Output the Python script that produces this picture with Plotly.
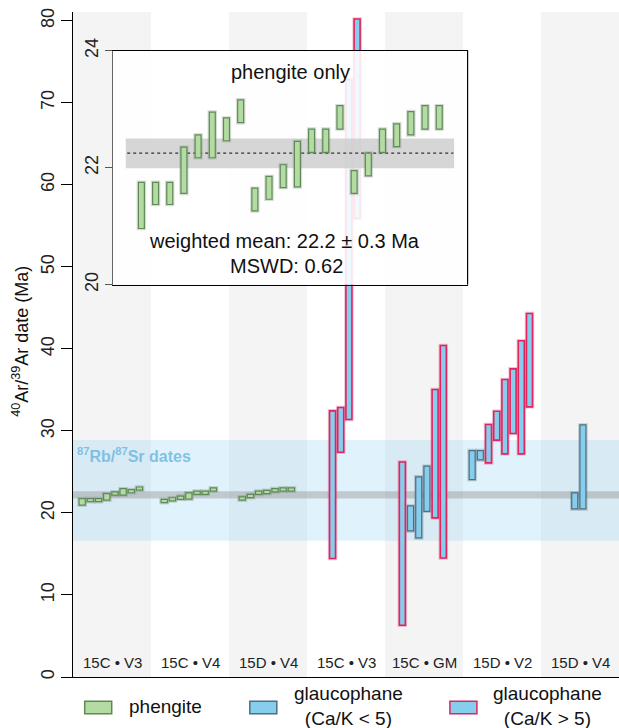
import plotly.graph_objects as go

# ---------------- data ----------------
categories = ["15C • V3", "15C • V4", "15D • V4", "15C • V3", "15C • GM", "15D • V2", "15D • V4"]

# phengite 40Ar/39Ar dates (Ma): lower and upper bound
ph_sample = [0] * 8 + [1] * 7 + [2] * 7
ph_lo = [20.96, 21.37, 21.37, 21.56, 22.17, 22.17, 22.46, 22.77,
         21.26, 21.46, 21.66, 21.67, 22.26, 22.26, 22.66,
         21.56, 21.86, 22.26, 22.36, 22.56, 22.66, 22.66]
ph_hi = [21.75, 21.75, 21.75, 22.35, 22.56, 22.95, 22.85, 23.16,
         21.65, 21.85, 22.05, 22.45, 22.66, 22.66, 23.06,
         21.95, 22.25, 22.66, 22.75, 22.96, 23.06, 23.06]

# glaucophane dates (Ma)
gl_sample = [3, 3, 3, 3, 4, 4, 4, 4, 4, 4, 5, 5, 5, 5, 5, 5, 5, 5, 6, 6]
gl_lo = [14.44, 27.40, 31.39, 55.90, 6.30, 17.80, 16.95, 20.20, 19.40, 14.50,
         24.07, 26.46, 26.10, 28.87, 27.20, 29.68, 27.20, 32.93, 20.49, 20.49]
gl_hi = [32.44, 32.85, 72.80, 80.20, 26.20, 20.85, 24.40, 25.70, 35.05, 40.40,
         27.60, 27.60, 30.78, 32.40, 36.27, 37.56, 40.98, 44.30, 22.44, 30.73]
gl_cak_gt5 = [1, 1, 1, 1, 1, 0, 0, 0, 1, 1, 0, 0, 1, 1, 1, 1, 1, 1, 0, 0]

rbsr_range = [16.6, 28.9]          # 87Rb/87Sr dates band
main_mean_band = [21.77, 22.63]    # grey weighted-mean band in main panel
inset_mean = 22.25                 # weighted mean (inset dashed line)
inset_mean_band = [21.99, 22.50]   # inset grey band
y_ticks_main = [0, 10, 20, 30, 40, 50, 60, 70, 80]
y_ticks_inset = [20, 22, 24]

# ---------------- layout constants ----------------
STEP = 0.105
SHIFT = -0.015
FONT = "Liberation Sans, Arial, sans-serif"
GREEN_FILL = "#b4dca2"
GREEN_LINE = "#5f8a58"
BLUE_FILL = "#86cdee"
BLUE_LINE = "#4d6f80"
PINK_LINE = "#e0245e"


def positions(samples):
    counts = {}
    for s in samples:
        counts[s] = counts.get(s, 0) + 1
    seen = {}
    xs = []
    for s in samples:
        k = seen.get(s, 0)
        seen[s] = k + 1
        n = counts[s]
        xs.append(s + 0.5 + SHIFT + (k - (n - 1) / 2) * STEP)
    return xs


ph_x = positions(ph_sample)
gl_x = positions(gl_sample)

fig = go.Figure()


def add_bars(xs, lo, hi, fill, line, halo, width, xaxis="x", yaxis="y", lw=1.2):
    h = [b - a for a, b in zip(lo, hi)]
    fig.add_trace(go.Bar(x=xs, y=h, base=lo, width=width, xaxis=xaxis, yaxis=yaxis,
                         marker=dict(color="rgba(0,0,0,0)", line=dict(color=halo, width=3.5)),
                         showlegend=False, hoverinfo="skip"))
    fig.add_trace(go.Bar(x=xs, y=h, base=lo, width=width, xaxis=xaxis, yaxis=yaxis,
                         marker=dict(color=fill, line=dict(color=line, width=lw)),
                         showlegend=False))


# main panel phengite
add_bars(ph_x, ph_lo, ph_hi, GREEN_FILL, GREEN_LINE, "rgba(120,140,120,0.35)", 0.08)

# main panel glaucophane
lo_a = [l for l, c in zip(gl_lo, gl_cak_gt5) if not c]
hi_a = [h for h, c in zip(gl_hi, gl_cak_gt5) if not c]
x_a = [x for x, c in zip(gl_x, gl_cak_gt5) if not c]
lo_b = [l for l, c in zip(gl_lo, gl_cak_gt5) if c]
hi_b = [h for h, c in zip(gl_hi, gl_cak_gt5) if c]
x_b = [x for x, c in zip(gl_x, gl_cak_gt5) if c]
add_bars(x_a, lo_a, hi_a, BLUE_FILL, BLUE_LINE, "rgba(110,130,140,0.35)", 0.077)
add_bars(x_b, lo_b, hi_b, BLUE_FILL, PINK_LINE, "rgba(230,80,130,0.35)", 0.077, lw=1.6)

# inset phengite
inset_x = list(range(len(ph_lo)))
add_bars(inset_x, ph_lo, ph_hi, GREEN_FILL, GREEN_LINE, "rgba(120,140,120,0.3)", 0.42,
         xaxis="x2", yaxis="y2")

shapes = []
# alternating column bands
for i in range(len(categories)):
    if i % 2 == 0:
        shapes.append(dict(type="rect", xref="x", yref="paper", x0=i, x1=i + 1, y0=0, y1=1,
                           fillcolor="#f4f4f4", line=dict(width=0), layer="below"))
# Rb/Sr band
shapes.append(dict(type="rect", xref="paper", yref="y", x0=0, x1=1,
                   y0=rbsr_range[0], y1=rbsr_range[1],
                   fillcolor="rgba(130,205,238,0.25)", line=dict(width=0), layer="below"))
# main weighted mean band
shapes.append(dict(type="rect", xref="paper", yref="y", x0=0, x1=1,
                   y0=main_mean_band[0], y1=main_mean_band[1],
                   fillcolor="rgba(150,150,150,0.45)", line=dict(width=0), layer="below"))
# inset band and mean line
shapes.append(dict(type="rect", xref="x2", yref="y2", x0=-1.1, x1=22.05,
                   y0=inset_mean_band[0], y1=inset_mean_band[1],
                   fillcolor="rgba(200,200,200,0.75)", line=dict(width=0), layer="below"))
shapes.append(dict(type="line", xref="x2", yref="y2", x0=-1.0, x1=22.0,
                   y0=inset_mean, y1=inset_mean,
                   line=dict(color="#333", width=1.3, dash="3px,3px"), layer="below"))

# custom legend
PX_L, PX_W, PX_B, PX_H = 73.3, 545.7, 676.7, 664.7


def px2paper(px, py):
    return (px - PX_L) / PX_W, (PX_B - py) / PX_H


legend_items = [
    (85, GREEN_FILL, GREEN_LINE, "phengite", 166),
    (250, BLUE_FILL, BLUE_LINE, "glaucophane<br>(Ca/K < 5)", 349),
    (450, BLUE_FILL, PINK_LINE, "glaucophane<br>(Ca/K > 5)", 548),
]
annotations = []
for bx, fill, line, label, tx in legend_items:
    x0, y0 = px2paper(bx, 713.5)
    x1, y1 = px2paper(bx + 27, 701)
    shapes.append(dict(type="rect", xref="paper", yref="paper", x0=x0, x1=x1, y0=y0, y1=y1,
                       fillcolor=fill, line=dict(color=line, width=1.5)))
    ax, ay = px2paper(tx, 706)
    annotations.append(dict(xref="paper", yref="paper", x=ax, y=ay, text=label,
                            showarrow=False, align="center", xanchor="center", yanchor="middle",
                            font=dict(family=FONT, size=19, color="#111")))

# inset right border
shapes.append(dict(type="line", xref="paper", yref="paper", x0=0.7227, x1=0.7227,
                   y0=0.590, y1=0.9418, line=dict(color="black", width=1.2), layer="above"))

# category labels
for i, c in enumerate(categories):
    annotations.append(dict(xref="x", yref="y", x=i + 0.5, y=1.8, text=c, showarrow=False,
                            xanchor="center", yanchor="middle",
                            font=dict(family="Liberation Sans Narrow, Arial Narrow, sans-serif",
                                      size=15, color="#222")))

# Rb/Sr label
annotations.append(dict(xref="paper", yref="y", x=0.004, y=rbsr_range[1] - 0.4,
                        text="<b><sup>87</sup>Rb/<sup>87</sup>Sr dates</b>", showarrow=False,
                        xanchor="left", yanchor="top",
                        font=dict(family=FONT, size=16, color="rgba(110,185,225,0.85)")))

# y-axis title
annotations.append(dict(xref="paper", yref="paper", x=px2paper(21, 0)[0], y=0.505,
                        text="<sup>40</sup>Ar/<sup>39</sup>Ar date (Ma)", textangle=-90,
                        showarrow=False, xanchor="center", yanchor="middle",
                        font=dict(family=FONT, size=18, color="#111")))

# inset texts
annotations.append(dict(xref="x2 domain", yref="y2 domain", x=0.5, y=0.91, text="phengite only",
                        showarrow=False, xanchor="center", yanchor="middle",
                        font=dict(family=FONT, size=20, color="#111")))
annotations.append(dict(xref="x2 domain", yref="y2 domain", x=0.485, y=0.185,
                        text="weighted mean: 22.2 ± 0.3 Ma", showarrow=False,
                        xanchor="center", yanchor="middle",
                        font=dict(family=FONT, size=20, color="#111")))
annotations.append(dict(xref="x2 domain", yref="y2 domain", x=0.49, y=0.078,
                        text="MSWD: 0.62", showarrow=False,
                        xanchor="center", yanchor="middle",
                        font=dict(family=FONT, size=20, color="#111")))

fig.update_layout(
    width=619, height=728,
    margin=dict(l=73.3, r=0, t=12, b=51.3),
    paper_bgcolor="white",
    plot_bgcolor="rgba(255,255,255,0.88)",
    barmode="overlay",
    showlegend=False,
    shapes=shapes,
    annotations=annotations,
    font=dict(family=FONT, color="#111"),
    xaxis=dict(range=[0, 7], showgrid=False, zeroline=False, showticklabels=False,
               ticks="", showline=True, linecolor="black", linewidth=1.2, domain=[0, 1]),
    yaxis=dict(range=[0, 81.06], showgrid=False, zeroline=False, tickvals=y_ticks_main,
               ticks="outside", ticklen=11, tickcolor="black", tickangle=-90,
               tickfont=dict(size=18, family=FONT, color="#222"),
               showline=True, linecolor="black", linewidth=1.2),
    xaxis2=dict(domain=[0.0733, 0.7227], anchor="y2", range=[-2, 23], showgrid=False,
                zeroline=False, showticklabels=False, ticks="", showline=True, mirror=True,
                linecolor="black", linewidth=1.2),
    yaxis2=dict(domain=[0.590, 0.9418], anchor="x2", range=[20, 24], showgrid=False,
                zeroline=False, tickvals=y_ticks_inset, ticks="outside", ticklen=7,
                tickcolor="#555", tickangle=-90,
                tickfont=dict(size=18, family=FONT, color="#222"),
                showline=True, linecolor="#666", linewidth=1.2),
)

fig.write_html("out.html")
